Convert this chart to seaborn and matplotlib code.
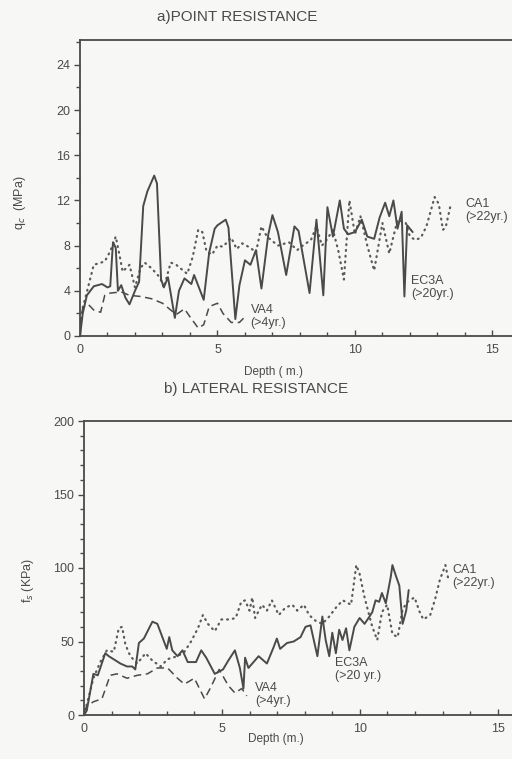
import numpy as np
import pandas as pd
import matplotlib
matplotlib.use("Agg")
import matplotlib.pyplot as plt
import seaborn as sns
from matplotlib.ticker import MultipleLocator

# ---------------- data ----------------
# a) point resistance qc (MPa) vs depth (m)
ec3a_qc_depth = [0.0, 0.1, 0.25, 0.5, 0.8, 1.0, 1.1, 1.2, 1.3, 1.38, 1.5, 1.65, 1.8, 2.0, 2.15, 2.3, 2.45,
                 2.7, 2.8, 2.95, 3.05, 3.2, 3.45, 3.6, 3.8, 4.05, 4.15, 4.5, 4.7, 4.9, 5.0, 5.3, 5.4, 5.65,
                 5.8, 6.0, 6.2, 6.4, 6.6, 6.85, 7.0, 7.2, 7.5, 7.8, 7.95, 8.35, 8.6, 8.85, 9.0, 9.2, 9.45,
                 9.6, 9.75, 10.0, 10.25, 10.45, 10.7, 10.9, 11.1, 11.25, 11.4, 11.55, 11.7, 11.8, 11.9, 12.1]
ec3a_qc = [0.0, 2.0, 3.6, 4.4, 4.6, 4.3, 4.4, 8.3, 7.8, 4.0, 4.5, 3.4, 2.8, 4.0, 4.8, 11.5, 12.8,
           14.2, 13.5, 5.0, 4.3, 5.2, 1.6, 4.0, 5.1, 4.6, 5.4, 3.2, 7.4, 9.5, 9.8, 10.3, 9.6, 1.5,
           4.5, 6.7, 6.3, 7.6, 4.2, 9.0, 10.7, 9.2, 5.4, 9.7, 9.3, 3.8, 10.3, 3.6, 11.4, 8.8, 12.0,
           9.5, 9.0, 9.2, 10.3, 8.8, 8.6, 10.5, 11.8, 10.6, 12.0, 9.5, 11.0, 3.5, 9.8, 9.2]

ca1_qc_depth = [0.0, 0.1, 0.25, 0.5, 0.9, 1.1, 1.3, 1.45, 1.55, 1.8, 2.0, 2.2, 2.35, 2.6, 2.9, 3.05,
                3.3, 3.5, 3.7, 3.9, 4.1, 4.3, 4.45, 4.6, 4.8, 5.0, 5.2, 5.5, 5.7, 5.9, 6.2, 6.4, 6.6,
                6.8, 7.2, 7.6, 7.9, 8.1, 8.4, 8.6, 8.8, 9.0, 9.2, 9.4, 9.6, 9.8, 10.0, 10.2, 10.45,
                10.7, 11.0, 11.25, 11.55, 11.85, 12.0, 12.2, 12.4, 12.6, 12.9, 13.05, 13.2, 13.3, 13.5]
ca1_qc = [0.5, 2.5, 3.9, 6.3, 6.6, 7.5, 8.8, 7.0, 5.7, 6.3, 4.3, 6.0, 6.5, 6.0, 5.2, 4.3,
          6.5, 6.3, 5.9, 5.5, 7.0, 9.4, 9.2, 7.5, 7.2, 8.0, 7.9, 8.7, 7.7, 8.2, 7.8, 7.4, 9.7,
          8.8, 8.0, 8.3, 7.6, 8.0, 8.5, 9.7, 8.0, 8.6, 9.4, 7.5, 5.0, 12.0, 9.0, 10.6, 8.0,
          5.8, 10.0, 7.3, 10.3, 10.0, 8.8, 8.5, 8.7, 9.7, 12.3, 11.7, 9.4, 9.6, 11.8]

va4_qc_depth = [0.0, 0.1, 0.3, 0.5, 0.75, 0.9, 1.1, 1.5, 1.8, 2.2, 2.6, 3.0, 3.3, 3.5, 3.8, 4.0,
                4.3, 4.5, 4.7, 5.0, 5.2, 5.5, 5.8, 6.0]
va4_qc = [1.0, 2.5, 2.8, 2.3, 2.1, 3.6, 3.8, 3.9, 3.6, 3.5, 3.3, 2.9, 2.3, 1.9, 2.4, 1.7,
          0.7, 1.0, 2.6, 2.9, 2.0, 1.2, 1.2, 1.7]

# b) lateral resistance fs (kPa) vs depth (m)
ec3a_fs_depth = [0.0, 0.1, 0.34, 0.5, 0.77, 0.9, 1.32, 1.56, 1.75, 1.86, 1.99, 2.17, 2.48, 2.66, 2.84,
                 3.0, 3.09, 3.2, 3.39, 3.57, 3.76, 4.06, 4.25, 4.43, 4.74, 5.04, 5.23, 5.47, 5.65,
                 5.78, 5.84, 5.96, 6.33, 6.51, 6.63, 6.87, 6.99, 7.11, 7.36, 7.6, 7.85, 8.03, 8.21,
                 8.46, 8.64, 8.76, 8.89, 9.0, 9.13, 9.25, 9.37, 9.5, 9.62, 9.8, 9.99, 10.17, 10.35,
                 10.45, 10.57, 10.7, 10.8, 10.94, 11.12, 11.18, 11.3, 11.43, 11.55, 11.68, 11.77]
ec3a_fs = [0, 3, 28, 27, 42, 40, 35, 33, 33, 31, 49, 52, 63.5, 62, 53,
           45, 53, 44, 40, 44, 36, 36, 44, 39, 28, 31, 37, 44, 32,
           18, 39, 32, 40, 37, 35, 46, 52, 45, 49, 50, 53, 60, 61,
           40, 67, 51, 40, 56, 42, 58, 51, 59, 44, 60, 66, 62, 67,
           70, 78, 77, 83, 76, 94, 102, 95, 88, 62, 71, 85]

ca1_fs_depth = [0.0, 0.1, 0.34, 0.59, 0.83, 1.08, 1.26, 1.38, 1.5, 1.68, 1.93, 2.23, 2.48, 2.78, 3.03,
                3.39, 3.64, 3.88, 4.13, 4.31, 4.49, 4.74, 4.98, 5.29, 5.5, 5.7, 5.84, 6.0, 6.1, 6.2,
                6.45, 6.63, 6.81, 7.06, 7.3, 7.55, 7.73, 7.97, 8.16, 8.4, 8.64, 8.89, 9.13, 9.38,
                9.68, 9.87, 9.99, 10.17, 10.35, 10.45, 10.63, 10.8, 10.99, 11.18, 11.37, 11.55,
                11.73, 11.98, 12.17, 12.3, 12.55, 12.73, 12.9, 13.1, 13.2]
ca1_fs = [3, 7, 25, 36, 44, 43, 59, 60, 48, 40, 35, 42, 37, 33, 38,
          40, 43, 50, 59, 68, 62, 57, 65, 65, 66, 77, 78, 71, 80, 66,
          75, 71, 78, 68, 73, 75, 71, 75, 68, 64, 62, 67, 73, 78,
          75, 102, 96, 80, 67, 60, 51, 70, 75, 55, 53, 72,
          77, 80, 70, 65, 68, 79, 92, 102, 93]

va4_fs_depth = [0.0, 0.1, 0.34, 0.65, 0.95, 1.2, 1.56, 1.93, 2.3, 2.66, 3.03, 3.39, 3.64, 4.0,
                4.37, 4.6, 4.9, 5.05, 5.23, 5.47, 5.72, 5.9]
va4_fs = [2, 6, 9, 11, 27, 28, 25, 27, 28, 32, 32, 25, 21, 25,
          11, 19, 31, 26, 20, 15, 18, 13]

# ---------------- style ----------------
sns.set_theme(style="white")
plt.rcParams['font.family'] = ['Liberation Sans Narrow', 'Liberation Sans', 'DejaVu Sans']
INK = "#4a4a4a"
BG = "#f7f7f5"

W, H = 512, 759
fig = plt.figure(figsize=(W / 100, H / 100), dpi=100, facecolor=BG)

ax1 = fig.add_axes([80 / W, 1 - 336 / H, 1 - 80 / W + 0.01, (336 - 40) / H])
ax2 = fig.add_axes([84 / W, 1 - 715 / H, 1 - 84 / W + 0.01, (715 - 421) / H])

solid = dict(color=INK, linewidth=1.4, linestyle="-")
dotted = dict(color="#5a5a5a", linewidth=1.6, linestyle=(0, (0.4, 2.2)), dash_capstyle="round")
dashed = dict(color=INK, linewidth=1.1, linestyle=(0, (5, 3)))

def draw(ax, xs, ys, style):
    df = pd.DataFrame({"depth": xs, "val": ys})
    sns.lineplot(data=df, x="depth", y="val", ax=ax, estimator=None, sort=False, **style)

draw(ax1, ca1_qc_depth, ca1_qc, dotted)
draw(ax1, va4_qc_depth, va4_qc, dashed)
draw(ax1, ec3a_qc_depth, ec3a_qc, solid)

draw(ax2, ca1_fs_depth, ca1_fs, dotted)
draw(ax2, va4_fs_depth, va4_fs, dashed)
draw(ax2, ec3a_fs_depth, ec3a_fs, solid)

def style_axes(ax, xmax, ymax, ymaj, ymin):
    ax.set_facecolor(BG)
    ax.set_xlim(0, xmax)
    ax.set_ylim(0, ymax)
    ax.set_xlabel("")
    ax.set_ylabel("")
    for s in ["top", "left", "bottom"]:
        ax.spines[s].set_color(INK)
        ax.spines[s].set_linewidth(1.3)
    ax.spines["right"].set_visible(False)
    ax.xaxis.set_major_locator(MultipleLocator(5))
    ax.xaxis.set_minor_locator(MultipleLocator(1))
    ax.yaxis.set_major_locator(MultipleLocator(ymaj))
    ax.yaxis.set_minor_locator(MultipleLocator(ymin))
    ax.tick_params(axis="x", which="both", direction="in", bottom=True, top=False,
                   colors=INK, labelsize=9, pad=6)
    ax.tick_params(axis="x", which="major", length=4, width=1)
    ax.tick_params(axis="x", which="minor", length=3, width=1)
    ax.tick_params(axis="y", which="both", direction="out", left=True, colors=INK, labelsize=9)
    ax.tick_params(axis="y", which="major", length=4, width=1, pad=3)
    ax.tick_params(axis="y", which="minor", length=3, width=1)

style_axes(ax1, 15.9, 26.2, 4, 2)
ax1.set_yticks([0, 4, 8, 12, 16, 20, 24])
style_axes(ax2, 15.7, 200, 50, 10)

# labels on curves
lab = dict(color=INK, fontsize=9, ha="left", va="center", linespacing=1.15)
ax1.text(14.0, 11.1, "CA1\n(>22yr.)", **lab)
ax1.text(12.05, 4.3, "EC3A\n(>20yr.)", **lab)
ax1.text(6.2, 1.75, "VA4\n(>4yr.)", **lab)

ax2.text(13.35, 94, "CA1\n(>22yr.)", **lab)
ax2.text(9.1, 31, "EC3A\n(>20 yr.)", **lab)
ax2.text(6.2, 14, "VA4\n(>4yr.)", **lab)

# titles and axis labels
fig.text(237 / W, 1 - 17 / H, "a)POINT RESISTANCE", ha="center", va="center",
         fontsize=11, color=INK)
fig.text(256 / W, 1 - 389 / H, "b) LATERAL RESISTANCE", ha="center", va="center",
         fontsize=11, color=INK)
fig.text(274 / W, 1 - 372 / H, "Depth ( m.)", ha="center", va="center", fontsize=8.5, color=INK)
fig.text(276 / W, 1 - 739 / H, "Depth (m.)", ha="center", va="center", fontsize=8.5, color=INK)
fig.text(20 / W, 1 - 203 / H, "q$_c$  (MPa)", ha="center", va="center", rotation=90,
         fontsize=9, color=INK)
fig.text(28 / W, 1 - 580 / H, "f$_s$ (KPa)", ha="center", va="center", rotation=90,
         fontsize=9, color=INK)

fig.savefig("out.png", dpi=100, facecolor=BG)
